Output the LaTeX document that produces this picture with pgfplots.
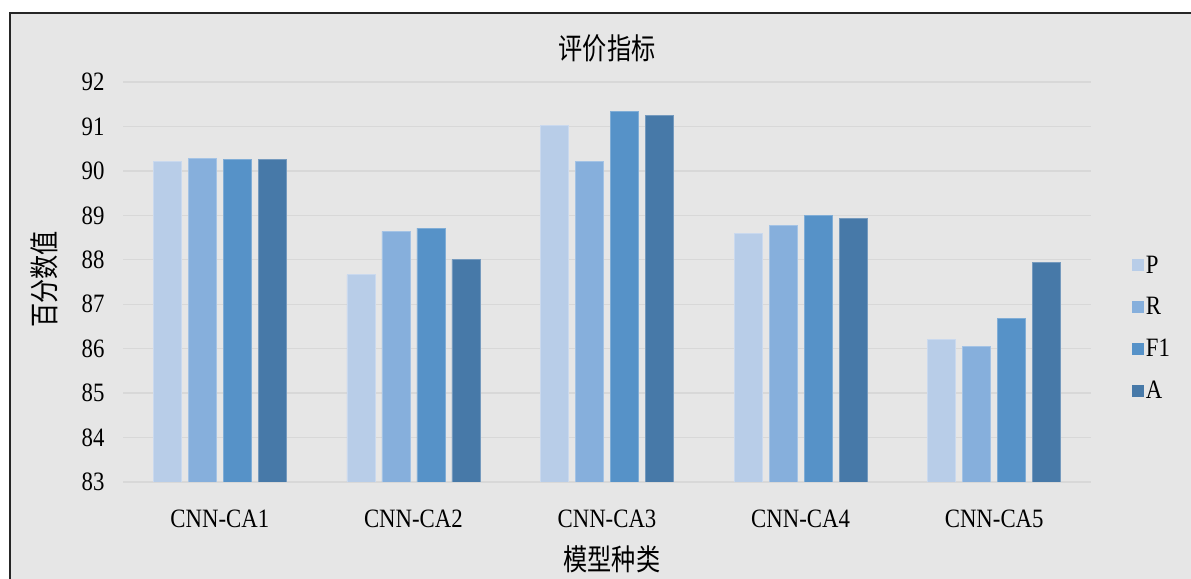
\documentclass[border=0pt]{standalone}
\usepackage{fontspec}
\setmainfont{Liberation Serif}[FakeStretch=0.86]
\newfontfamily\cjk{Noto Sans CJK SC}[FakeStretch=0.82]
\usepackage{pgfplots}
\pgfplotsset{compat=1.18}

\definecolor{bgcol}{HTML}{E6E6E6}
\definecolor{gridcol}{HTML}{D8D8D8}
\definecolor{cP}{HTML}{B8CDE8}
\definecolor{cR}{HTML}{86AFDC}
\definecolor{cF}{HTML}{5692C8}
\definecolor{cA}{HTML}{4779A8}

\newcommand{\lbl}{\fontsize{26.5bp}{29bp}\selectfont}
\newcommand{\clbl}{\cjk\fontsize{29.5bp}{31bp}\selectfont}

\begin{document}
\begin{tikzpicture}[x=1bp,y=1bp]
  \path[use as bounding box] (0,0) rectangle (1191,579);
  % chart area with its frame (runs past the right and bottom edges)
  \fill[bgcol] (10,-20) rectangle (1210,565.5);
  \draw[line width=2bp, black!85] (10,-20) -- (10,565.5) -- (1210,565.5);

  \begin{axis}[
    at={(123bp,97bp)}, anchor=south west,
    scale only axis, width=968bp, height=400bp,
    xmin=-0.5, xmax=4.5, ymin=83, ymax=92,
    ytick distance=1,
    xtick={0,1,2,3,4},
    xticklabels={CNN-CA1,CNN-CA2,CNN-CA3,CNN-CA4,CNN-CA5},
    /pgf/number format/assume math mode=true,
    axis line style={draw=none},
    major tick length=0pt,
    ymajorgrids,
    grid style={draw=gridcol, line width=1.4bp},
    ticklabel style={font=\lbl},
    yticklabel style={xshift=-15bp},
    xticklabel style={yshift=-24bp},
    ybar=7bp, bar width=28bp,
    title={\clbl 评价指标},
    title style={at={(axis description cs:0.5,1.07)}, anchor=center},
    xlabel={\clbl 模型种类},
    xlabel style={at={(axis description cs:0.505,-0.193)}, anchor=center},
    ylabel={\clbl 百分数值},
    ylabel style={at={(axis description cs:-0.081,0.507)}, anchor=center, rotate=0},
    legend style={draw=none, fill=none, font=\lbl,
      at={(axis description cs:1.042,0.385)}, anchor=west,
      row sep=19bp, inner sep=0pt, cells={anchor=west}},
    legend image code/.code={\path[#1, draw=none] (0bp,-6bp) rectangle (12bp,6bp);},
  ]
    \addplot[fill=cP, draw=cP!75!white, line width=0.8bp] coordinates {(0,90.22) (1,87.66) (2,91.02) (3,88.60) (4,86.20)};
    \addplot[fill=cR, draw=cR!75!white, line width=0.8bp] coordinates {(0,90.27) (1,88.64) (2,90.22) (3,88.77) (4,86.04)};
    \addplot[fill=cF, draw=cF!75!white, line width=0.8bp] coordinates {(0,90.25) (1,88.71) (2,91.33) (3,89.00) (4,86.67)};
    \addplot[fill=cA, draw=cA!75!white, line width=0.8bp] coordinates {(0,90.26) (1,88.00) (2,91.24) (3,88.92) (4,87.94)};
    \legend{P,R,F1,A}
  \end{axis}
\end{tikzpicture}
\end{document}
